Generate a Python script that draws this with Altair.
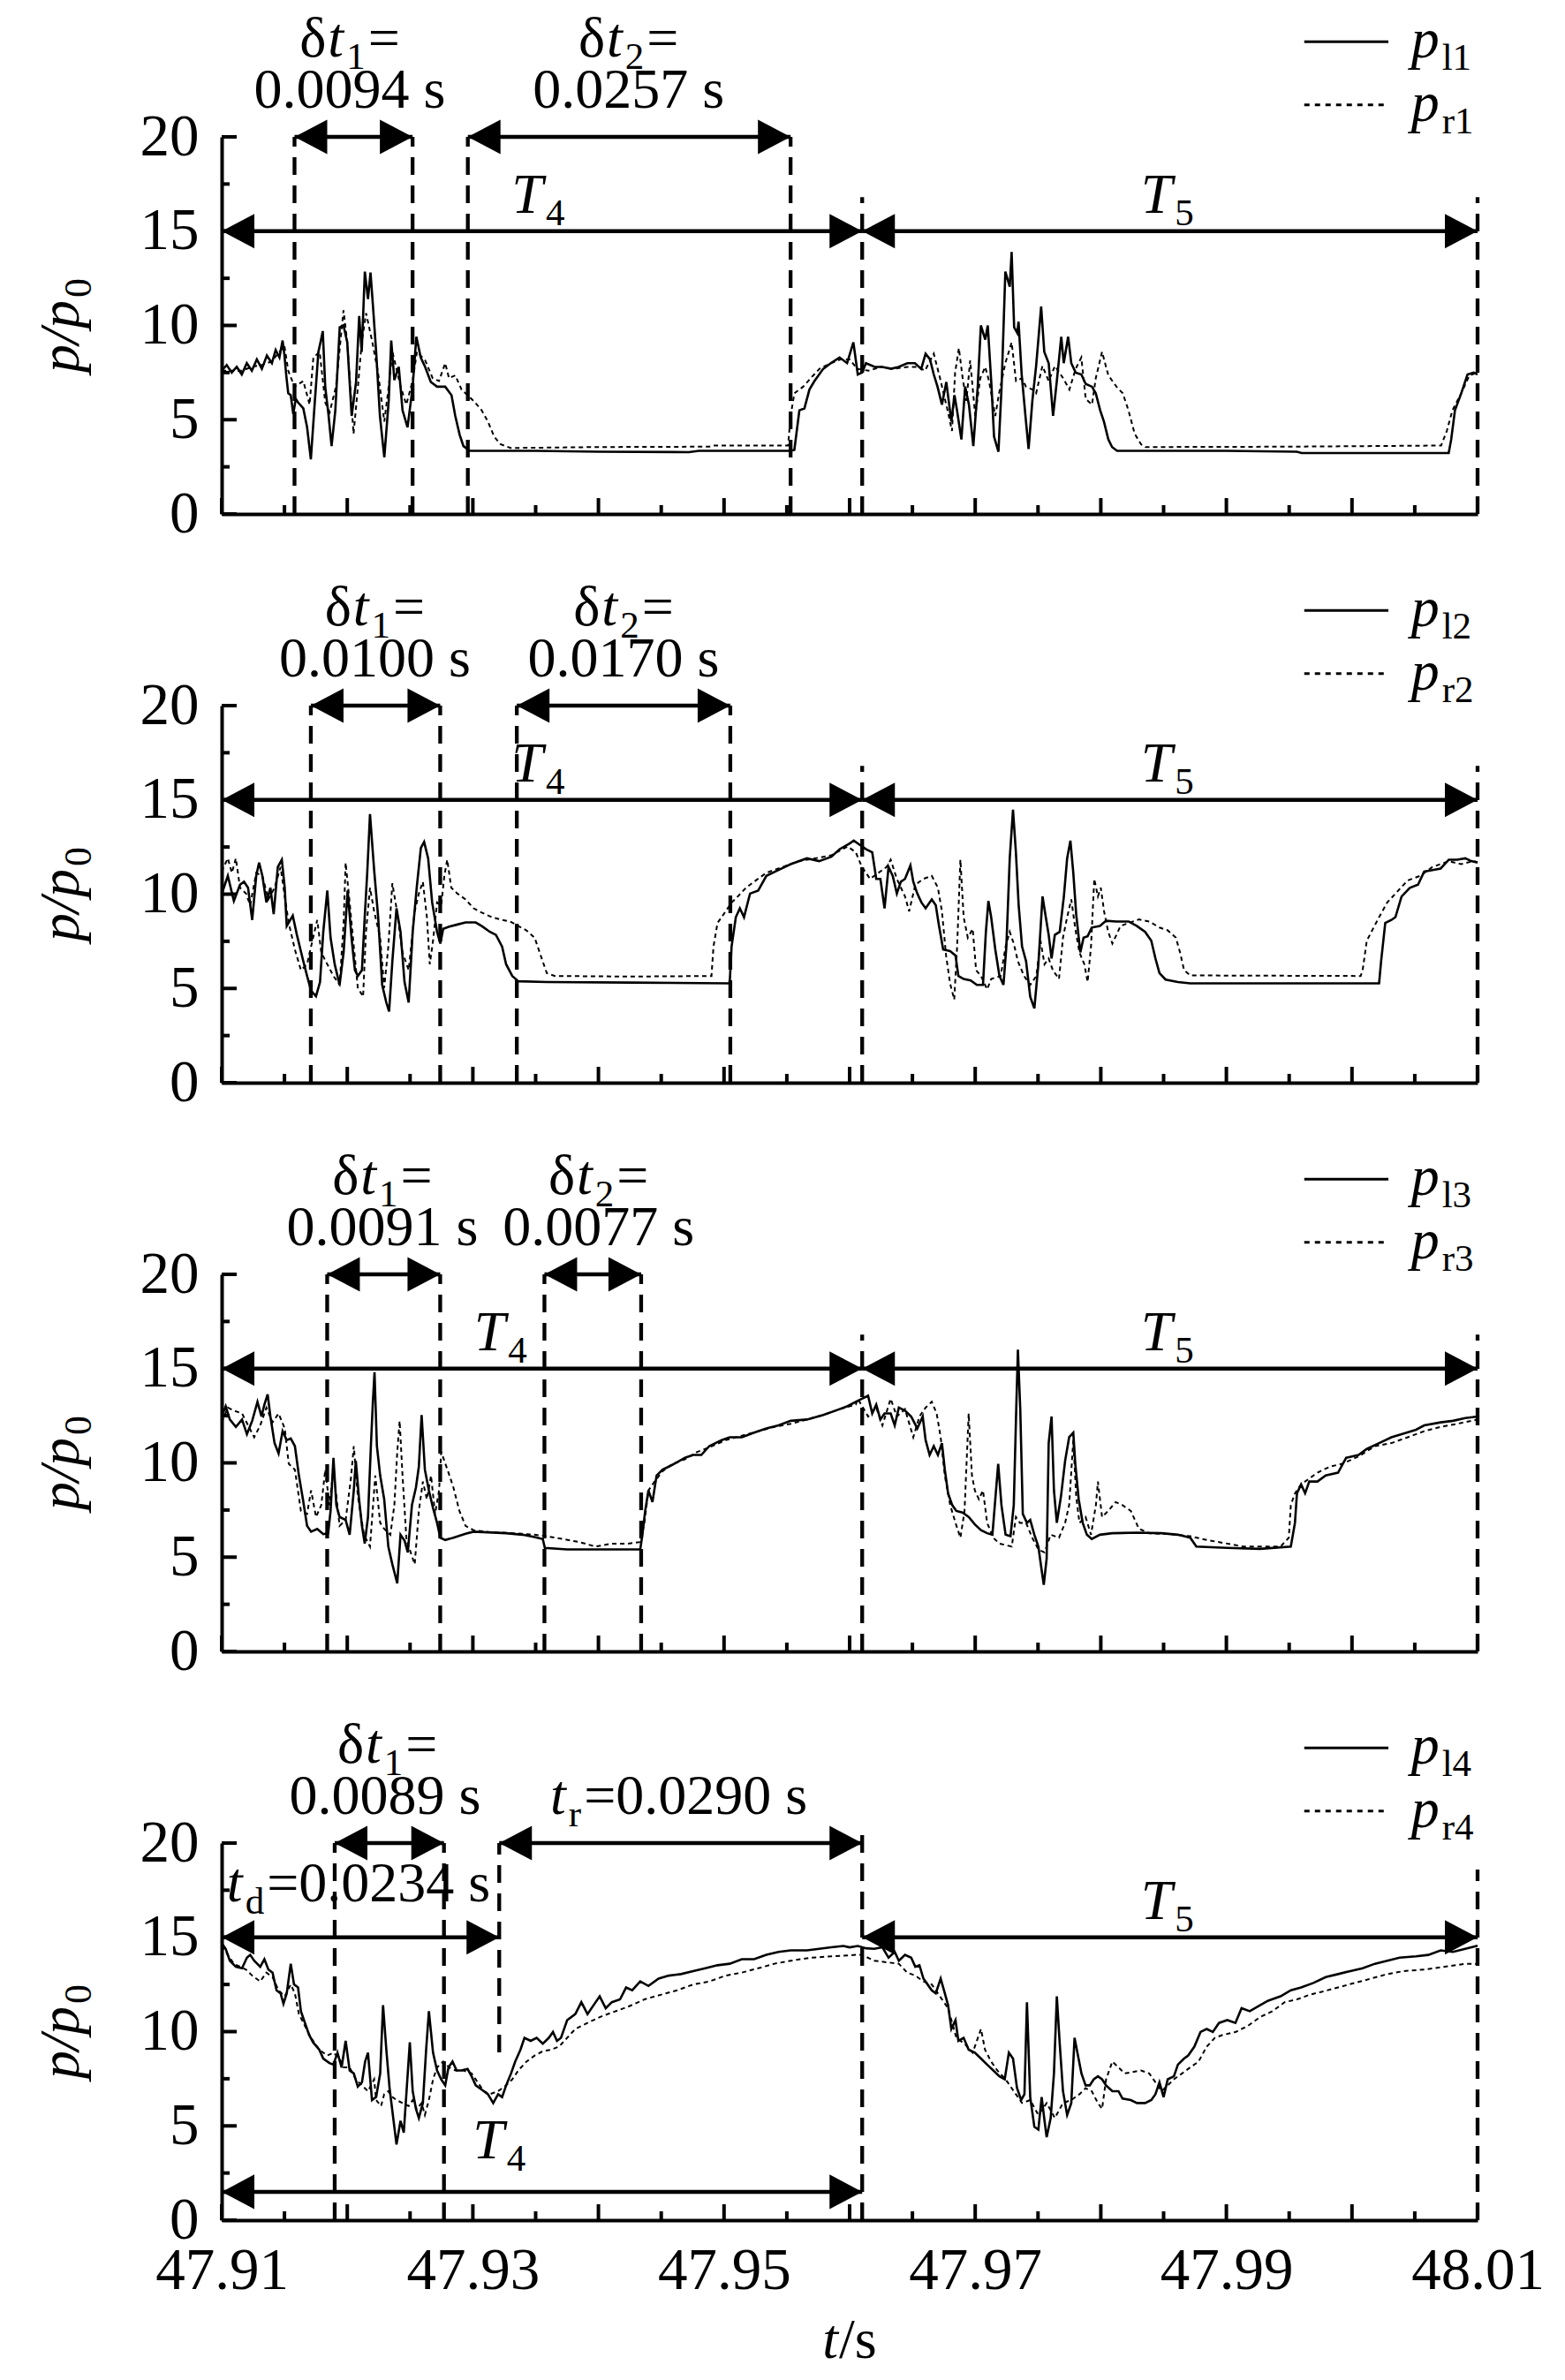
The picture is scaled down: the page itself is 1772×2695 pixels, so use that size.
import altair as alt
import pandas as pd

T0 = 47.91  # s; curve times below are ms after T0

# ---------------- curves: (ms after 47.91 s, p/p0) ----------------
P1L = [(0,7.6),(0.4,7.9),(0.8,7.5),(1.2,7.8),(1.6,7.4),(2.0,8.0),(2.4,7.6),(2.8,8.2),(3.2,7.7),(3.6,8.4),(4.0,8.0),(4.3,8.7),(4.6,8.3),(4.85,9.2),(5.0,8.4),(5.15,7.3),(5.3,6.4),(5.5,6.3),(5.7,5.3),(5.9,6.1),(6.1,5.9),(6.5,5.6),(6.8,4.6),(7.1,2.9),(7.4,5.8),(7.7,8.6),(7.9,9.2),(8.05,9.7),(8.25,6.7),(8.5,5.3),(8.75,3.6),(9.05,5.5),(9.4,9.9),(9.7,10.0),(10.0,9.1),(10.35,5.2),(10.7,7.0),(10.95,10.5),(11.15,8.6),(11.4,12.85),(11.65,11.4),(11.85,12.8),(12.05,11.0),(12.3,8.6),(12.6,5.2),(12.95,3.0),(13.3,6.0),(13.5,9.2),(13.75,7.1),(14.1,7.8),(14.4,5.5),(14.8,4.6),(15.2,6.7),(15.5,9.4),(15.85,8.3),(16.2,7.8),(16.65,7.0),(17.15,6.75),(17.8,6.75),(18.3,6.3),(18.6,5.2),(18.95,4.2),(19.25,3.6),(19.75,3.35),(25,3.35),(30,3.3),(37.2,3.28),(38,3.35),(45.3,3.35),(45.6,3.4),(46.0,5.5),(46.4,5.6),(46.8,6.6),(47.2,7.05),(47.9,7.7),(48.5,8.0),(49.2,8.3),(49.8,8.0),(50.3,9.1),(50.65,7.4),(51.0,7.5),(51.3,8.0),(52.0,7.8),(52.6,7.8),(53.3,7.7),(53.9,7.8),(54.6,8.0),(55.2,8.0),(55.7,7.7),(56.05,8.5),(56.4,8.2),(56.7,7.4),(57.0,6.75),(57.35,5.8),(57.7,7.0),(58.1,4.9),(58.35,6.3),(58.55,5.5),(58.9,3.95),(59.2,6.75),(59.5,5.8),(59.85,3.6),(60.2,6.75),(60.45,10.0),(60.8,9.25),(61.0,10.0),(61.3,6.75),(61.5,4.1),(61.85,3.3),(62.1,6.75),(62.4,12.85),(62.75,12.05),(62.9,13.9),(63.1,9.9),(63.35,9.6),(63.45,10.2),(63.7,7.4),(64.0,5.2),(64.25,3.45),(64.55,6.0),(64.85,7.85),(65.25,11.0),(65.5,8.6),(65.85,8.0),(66.2,5.2),(66.5,7.05),(66.85,9.4),(67.05,8.0),(67.4,9.4),(67.65,8.0),(68.0,7.5),(68.45,7.4),(68.8,6.9),(69.3,6.75),(69.6,6.4),(69.95,5.5),(70.25,4.9),(70.6,3.95),(70.9,3.55),(71.3,3.35),(80,3.35),(85.6,3.3),(86.0,3.23),(97.7,3.23),(97.9,3.95),(98.2,5.5),(98.7,6.4),(99.2,7.4),(99.7,7.5),(100,7.4)]
P1R = [(0,7.6),(0.8,7.6),(1.6,7.6),(2.4,7.8),(3.2,7.9),(4.0,8.1),(4.6,8.6),(5.0,8.9),(5.3,7.6),(5.8,6.75),(6.5,7.05),(7.0,5.8),(7.3,8.3),(7.8,8.6),(8.25,5.9),(8.6,5.4),(9.1,6.75),(9.7,10.8),(10.0,9.1),(10.5,4.25),(10.85,6.75),(11.15,9.1),(11.5,10.65),(12.0,9.1),(12.45,7.5),(12.95,4.9),(13.3,6.75),(13.6,8.6),(14.25,6.75),(14.7,5.8),(15.2,7.05),(15.55,8.6),(16.2,8.15),(16.8,7.2),(17.3,7.05),(17.8,8.0),(18.1,7.2),(18.6,7.35),(19.1,6.6),(20.1,5.97),(20.7,5.5),(21.2,4.9),(21.7,4.1),(22.2,3.7),(23.0,3.5),(30,3.55),(38.8,3.57),(39.2,3.63),(45.1,3.63),(45.3,5.2),(45.6,6.4),(46.3,6.75),(46.9,7.2),(47.6,7.7),(48.5,8.0),(49.3,8.2),(50.0,8.2),(50.6,7.7),(51.5,7.6),(52.5,7.8),(53.5,7.7),(54.6,7.8),(55.4,7.8),(56.0,7.6),(56.7,8.5),(57.2,7.2),(57.85,5.35),(58.15,4.4),(58.4,7.5),(58.7,8.8),(59.0,7.2),(59.3,6.0),(59.6,8.15),(60.0,5.2),(60.4,7.2),(60.8,7.8),(61.1,7.05),(61.6,5.2),(61.9,6.4),(62.4,8.0),(62.9,9.1),(63.25,7.05),(63.7,7.2),(64.05,6.75),(64.55,6.6),(64.85,6.4),(65.35,7.85),(65.85,7.05),(66.35,7.85),(67.0,7.2),(67.5,6.6),(68.0,7.7),(68.45,8.3),(68.8,6.1),(69.3,5.8),(69.6,7.2),(70.1,8.6),(70.6,7.35),(71.25,6.75),(71.75,6.4),(72.2,5.5),(72.7,4.25),(73.2,3.7),(73.55,3.55),(85,3.57),(91.2,3.6),(97.1,3.63),(97.55,4.4),(98.0,5.5),(98.7,6.4),(99.35,7.35),(100,7.5)]

P2L = [(0,10.0),(0.49,10.97),(0.97,9.64),(1.46,10.5),(1.78,10.66),(2.1,10.34),(2.43,8.63),(2.75,10.97),(2.98,11.67),(3.24,10.97),(3.56,9.56),(3.88,10.34),(4.14,8.94),(4.47,11.44),(4.79,11.83),(5.02,10.34),(5.18,8.31),(5.66,8.86),(5.99,7.84),(6.47,6.52),(6.8,5.66),(7.12,4.88),(7.51,4.59),(7.83,5.34),(8.09,8.0),(8.41,10.19),(8.67,7.69),(9.0,6.28),(9.39,5.19),(9.71,6.91),(10.03,10.19),(10.36,7.53),(10.61,5.97),(10.84,5.66),(11.17,5.97),(11.39,8.78),(11.59,11.13),(11.81,14.25),(12.14,11.28),(12.46,8.78),(12.78,5.19),(13.11,4.25),(13.33,3.78),(13.59,6.44),(13.92,9.25),(14.24,8.0),(14.56,5.34),(14.89,4.25),(15.21,8.0),(15.53,10.34),(15.86,12.45),(16.12,12.77),(16.44,11.9),(16.76,9.56),(17.15,8.0),(17.41,7.38),(17.64,8.16),(18.12,8.28),(18.77,8.39),(19.42,8.5),(20.23,8.5),(20.71,8.31),(21.36,8.0),(21.84,7.84),(22.33,7.22),(22.65,6.28),(23.14,5.66),(23.62,5.38),(25.9,5.34),(32.4,5.31),(40.45,5.27),(40.6,7.22),(40.94,8.78),(41.26,9.25),(41.59,8.78),(42.07,10.03),(42.72,10.19),(43.37,10.97),(44.34,11.28),(45.31,11.59),(46.6,11.9),(47.57,11.75),(48.54,11.98),(49.19,12.38),(50.0,12.69),(50.33,12.84),(50.82,12.61),(51.31,12.38),(51.8,12.22),(52.12,10.81),(52.45,10.81),(52.78,9.25),(53.1,11.44),(53.43,10.97),(53.76,10.03),(54.08,10.66),(54.41,10.81),(54.84,11.52),(55.07,10.66),(55.39,10.03),(55.72,9.56),(56.05,9.25),(56.54,9.72),(56.86,9.41),(57.12,8.31),(57.45,7.06),(58.0,6.98),(58.43,6.75),(58.66,5.66),(59.08,5.5),(59.64,5.42),(60.13,5.19),(60.62,5.19),(60.85,8.0),(61.05,9.64),(61.27,8.78),(61.6,7.06),(61.93,5.66),(62.25,5.19),(62.48,7.22),(62.75,11.9),(63.01,14.48),(63.24,12.22),(63.46,9.41),(63.73,7.22),(64.05,6.44),(64.38,4.56),(64.71,3.94),(65.03,6.28),(65.36,9.88),(65.62,8.78),(65.85,7.84),(66.08,6.59),(66.34,7.84),(66.73,8.0),(67.06,9.88),(67.32,11.9),(67.58,12.84),(67.81,11.13),(68.04,8.94),(68.37,6.91),(68.63,7.69),(68.95,7.77),(69.28,8.23),(69.93,8.31),(70.42,8.59),(71.24,8.55),(72.22,8.55),(72.88,8.31),(73.53,8.0),(74.02,7.53),(74.35,6.59),(74.67,5.81),(75.16,5.47),(76.14,5.34),(77.12,5.27),(92.16,5.27),(92.32,6.44),(92.65,8.47),(93.14,8.63),(93.46,8.78),(93.95,9.88),(94.61,10.34),(95.26,10.5),(95.75,11.2),(96.41,11.28),(97.06,11.36),(97.71,11.83),(98.37,11.83),(99.02,11.9),(99.5,11.75),(100,11.67)]
P2R = [(0,11.2),(0.49,11.9),(0.81,11.13),(1.13,11.9),(1.46,10.34),(1.94,10.03),(2.27,9.41),(2.75,11.13),(3.24,10.97),(3.72,9.72),(4.21,10.34),(4.69,11.44),(5.02,9.88),(5.34,8.47),(5.83,7.06),(6.31,5.97),(6.8,6.28),(7.28,7.69),(7.61,8.63),(7.93,6.91),(8.41,6.28),(8.9,5.66),(9.39,5.19),(9.71,8.47),(9.87,11.67),(10.19,9.56),(10.52,7.22),(10.84,5.03),(11.26,4.56),(11.49,8.0),(11.81,10.34),(12.14,9.09),(12.62,7.69),(12.94,5.03),(13.27,7.22),(13.59,10.58),(13.92,9.25),(14.4,6.91),(14.89,5.97),(15.37,9.09),(15.7,10.03),(16.02,10.66),(16.34,8.78),(16.57,6.28),(16.83,7.53),(17.15,9.56),(17.48,9.41),(17.73,10.97),(17.96,11.83),(18.28,10.34),(18.77,10.03),(19.42,9.72),(20.06,9.25),(20.71,9.02),(21.52,8.78),(22.33,8.63),(22.98,8.55),(23.62,8.31),(24.27,8.08),(24.92,7.69),(25.4,6.75),(25.89,5.81),(26.54,5.66),(32.36,5.63),(39.0,5.66),(39.16,7.22),(39.48,8.47),(40.13,9.09),(40.61,9.56),(41.1,9.88),(41.75,10.34),(42.39,10.66),(43.37,11.13),(44.66,11.44),(45.95,11.75),(47.25,11.9),(48.54,12.06),(49.84,12.53),(50.49,12.22),(50.98,11.44),(51.63,10.81),(52.29,11.13),(52.94,11.44),(53.27,11.83),(53.76,10.81),(54.41,9.88),(54.74,9.09),(55.23,10.5),(55.88,10.81),(56.54,10.97),(57.03,10.34),(57.35,9.09),(57.68,6.75),(58.0,5.27),(58.33,4.41),(58.56,7.22),(58.82,11.83),(59.08,8.78),(59.41,7.69),(59.8,8.16),(60.07,5.97),(60.46,5.66),(60.95,4.95),(61.27,5.5),(62.03,5.66),(62.42,7.22),(62.75,8.0),(63.07,7.38),(63.4,6.44),(63.89,5.66),(64.38,5.19),(64.87,5.66),(65.2,7.53),(65.52,6.28),(65.85,6.59),(66.18,5.97),(66.67,5.5),(66.99,7.69),(67.32,8.78),(67.65,9.72),(67.97,8.16),(68.3,6.91),(68.69,6.28),(68.95,5.34),(69.22,7.22),(69.48,10.81),(69.77,9.88),(70.0,10.34),(70.26,9.09),(70.59,8.0),(70.92,7.38),(71.57,8.31),(72.22,8.47),(73.04,8.66),(73.86,8.55),(74.67,8.23),(75.33,8.08),(75.98,7.69),(76.31,6.91),(76.63,5.97),(77.12,5.69),(90.69,5.66),(90.85,5.97),(91.18,7.53),(91.67,8.16),(92.16,8.78),(92.81,9.56),(93.46,10.03),(94.44,10.73),(95.42,10.97),(96.41,11.44),(97.71,11.75),(98.69,11.59),(99.67,11.75),(100,11.7)]

P3L = [(0,12.46),(0.32,13.0),(0.65,12.3),(1.13,11.91),(1.62,12.3),(2.01,11.52),(2.43,12.23),(2.85,13.24),(3.17,12.46),(3.4,13.09),(3.66,13.64),(3.88,12.46),(4.21,11.05),(4.53,10.5),(4.85,11.68),(5.18,11.21),(5.5,11.29),(5.83,10.89),(6.15,9.33),(6.47,8.07),(6.8,6.66),(7.12,6.35),(7.61,6.5),(8.09,6.22),(8.48,6.27),(8.67,7.45),(8.9,10.27),(9.13,7.76),(9.39,7.13),(9.87,6.97),(10.19,6.19),(10.52,8.54),(10.68,10.11),(10.94,8.07),(11.17,6.66),(11.39,5.72),(11.65,7.13),(11.88,10.89),(12.04,13.24),(12.17,14.81),(12.36,10.89),(12.62,9.33),(12.94,8.07),(13.27,5.56),(13.59,4.62),(13.98,3.61),(14.24,6.19),(14.56,5.88),(14.82,5.25),(15.15,7.76),(15.47,8.7),(15.7,9.8),(15.92,12.54),(16.18,9.64),(16.5,8.54),(16.83,7.6),(17.15,6.82),(17.41,6.03),(17.8,5.91),(18.45,6.03),(19.42,6.24),(20.06,6.35),(22.65,6.27),(23.95,6.19),(24.92,6.07),(25.57,5.96),(25.73,5.49),(27.51,5.41),(33.33,5.41),(33.5,6.19),(33.72,7.45),(33.98,8.54),(34.3,7.92),(34.63,9.33),(35.11,9.64),(35.6,9.8),(36.25,10.03),(36.89,10.27),(37.54,10.42),(38.19,10.42),(38.83,10.89),(39.81,11.21),(40.45,11.36),(41.42,11.36),(42.39,11.6),(43.37,11.83),(44.34,11.99),(45.31,12.23),(46.6,12.3),(47.9,12.54),(48.87,12.77),(49.84,13.01),(50.49,13.24),(50.98,13.4),(51.47,13.56),(51.8,12.62),(52.12,13.09),(52.45,12.3),(52.78,12.62),(53.27,12.62),(53.59,11.99),(53.92,12.93),(54.41,12.77),(54.9,12.46),(55.39,11.83),(55.82,12.46),(56.05,11.21),(56.37,10.42),(56.7,10.89),(57.03,10.42),(57.35,11.05),(57.58,9.64),(57.84,8.39),(58.17,7.76),(58.5,7.45),(58.99,7.37),(59.48,7.13),(59.97,6.74),(60.46,6.43),(60.95,6.27),(61.37,6.19),(61.6,8.07),(61.83,9.95),(62.09,7.76),(62.42,6.19),(62.81,6.11),(63.07,7.76),(63.27,12.93),(63.4,16.0),(63.59,12.77),(63.79,7.29),(64.12,6.82),(64.38,6.97),(64.71,6.19),(65.03,5.56),(65.29,4.31),(65.46,3.53),(65.69,4.94),(65.85,11.05),(66.08,12.46),(66.27,8.54),(66.5,6.82),(66.83,8.23),(67.16,10.11),(67.48,11.36),(67.81,11.6),(67.97,9.95),(68.24,8.07),(68.56,6.82),(68.89,6.19),(69.28,5.96),(69.93,6.19),(70.92,6.27),(72.88,6.3),(74.84,6.27),(76.14,6.19),(77.12,6.03),(77.61,5.56),(80.07,5.49),(82.68,5.44),(85.13,5.56),(85.46,6.82),(85.62,8.39),(85.95,8.86),(86.27,8.39),(86.6,9.01),(87.25,9.01),(87.91,9.33),(88.89,9.48),(89.54,10.27),(90.52,10.42),(91.18,10.74),(92.16,11.05),(93.14,11.36),(93.95,11.52),(95.1,11.76),(95.75,11.99),(97.06,12.15),(98.04,12.23),(99.02,12.38),(100,12.46)]
P3R = [(0,12.15),(0.49,12.93),(0.97,12.77),(1.62,12.62),(2.1,11.99),(2.59,11.36),(3.07,11.99),(3.56,12.93),(4.05,12.15),(4.53,12.62),(5.02,11.83),(5.34,9.95),(5.83,9.64),(6.31,7.45),(6.8,7.29),(7.12,8.54),(7.51,7.13),(7.93,7.76),(8.25,9.64),(8.58,7.76),(8.9,9.64),(9.39,6.66),(9.87,6.97),(10.29,9.17),(10.52,10.89),(10.84,8.23),(11.33,6.19),(11.81,5.56),(12.23,9.33),(12.62,6.82),(12.94,6.5),(13.43,6.19),(13.75,7.76),(13.98,10.58),(14.17,12.23),(14.4,9.33),(14.72,5.88),(15.05,5.25),(15.37,4.62),(15.7,7.45),(16.02,9.01),(16.34,8.07),(16.67,9.33),(16.99,7.29),(17.31,8.54),(17.48,10.58),(17.73,10.11),(18.06,9.48),(18.45,8.7),(18.93,7.45),(19.42,6.66),(20.06,6.43),(21.36,6.32),(23.3,6.27),(24.92,6.19),(25.89,6.11),(27.18,5.96),(28.48,5.8),(29.77,5.56),(31.07,5.72),(32.36,5.72),(33.33,5.8),(33.66,6.82),(33.98,8.54),(34.47,9.01),(35.11,9.56),(35.92,9.95),(36.89,10.19),(37.86,10.58),(38.83,10.82),(40.13,11.21),(41.42,11.44),(42.72,11.68),(44.01,11.91),(45.31,12.07),(46.6,12.3),(47.9,12.54),(49.19,12.85),(50.49,13.09),(50.65,13.4),(51.47,12.46),(52.12,12.93),(52.61,11.99),(53.27,13.4),(53.76,12.46),(54.41,12.85),(55.07,11.36),(55.56,12.46),(56.05,12.93),(56.54,13.24),(56.93,12.62),(57.25,11.36),(57.58,9.33),(58.01,7.76),(58.43,6.82),(58.82,6.03),(59.15,7.45),(59.48,12.62),(59.74,9.33),(59.97,8.54),(60.29,8.07),(60.62,8.54),(60.95,6.82),(61.44,6.03),(61.93,5.72),(62.91,5.56),(63.24,7.13),(63.56,6.82),(64.05,6.82),(64.54,6.03),(65.03,5.41),(65.52,5.25),(66.01,6.19),(66.67,6.03),(67.16,6.82),(67.48,7.76),(67.81,11.21),(68.04,8.23),(68.3,6.82),(68.79,7.13),(69.22,6.19),(69.61,7.76),(69.77,9.01),(70.1,7.13),(70.59,7.45),(71.18,7.92),(71.73,7.76),(72.39,7.45),(73.04,6.5),(73.86,6.27),(75.49,6.22),(77.12,6.11),(78.43,5.91),(80.07,5.72),(81.37,5.56),(84.31,5.56),(84.97,6.03),(85.13,7.76),(85.46,8.39),(85.95,8.86),(87.25,9.48),(88.24,9.8),(89.22,9.95),(90.52,10.34),(91.83,10.89),(93.14,11.05),(94.44,11.36),(95.75,11.68),(97.06,11.91),(98.37,12.07),(100,12.3)]

P4L = [(0,14.7),(0.32,14.39),(0.65,13.76),(1.13,13.44),(1.62,13.36),(2.01,13.92),(2.27,14.07),(2.59,13.76),(3.07,13.44),(3.4,13.84),(3.72,13.29),(4.05,13.13),(4.37,12.19),(4.69,12.03),(4.92,11.48),(5.18,12.03),(5.5,13.6),(5.76,12.5),(6.08,12.34),(6.31,11.08),(6.63,10.46),(6.96,9.83),(7.28,9.43),(7.77,9.04),(8.09,8.57),(8.58,8.33),(8.9,8.25),(9.22,8.88),(9.55,8.1),(9.87,9.51),(10.19,7.94),(10.52,7.78),(10.84,7.08),(11.17,7.31),(11.42,8.41),(11.65,8.88),(11.97,6.37),(12.3,6.53),(12.62,7.78),(12.85,11.4),(13.11,9.04),(13.37,7.0),(13.66,5.42),(13.92,4.01),(14.24,5.27),(14.5,4.64),(14.72,6.84),(14.98,9.43),(15.21,6.84),(15.47,5.9),(15.7,5.42),(16.02,6.21),(16.28,9.04),(16.5,11.08),(16.83,8.88),(17.15,7.94),(17.48,7.47),(17.8,7.15),(18.06,8.1),(18.38,8.41),(18.71,7.94),(19.09,7.94),(19.58,8.02),(19.9,7.63),(20.23,7.15),(20.71,6.92),(21.2,6.68),(21.62,6.21),(22.01,6.68),(22.33,6.53),(22.65,7.15),(23.04,7.78),(23.37,8.41),(23.79,9.04),(24.11,9.67),(24.6,9.51),(25.08,9.67),(25.57,9.36),(26.05,9.67),(26.38,9.98),(26.7,9.51),(27.02,9.67),(27.51,10.61),(28.16,10.93),(28.64,11.56),(29.13,10.93),(29.61,11.4),(30.1,11.87),(30.58,11.24),(31.07,11.56),(31.72,11.71),(32.2,12.34),(32.69,12.19),(33.33,12.66),(33.98,12.42),(34.79,12.81),(35.6,12.97),(36.57,13.05),(37.54,13.21),(38.51,13.36),(39.48,13.52),(40.45,13.6),(41.42,13.84),(42.39,13.84),(43.37,14.07),(44.34,14.23),(45.31,14.31),(46.6,14.31),(47.57,14.39),(48.54,14.47),(49.51,14.54),(50.0,14.47),(50.65,14.54),(51.31,14.42),(51.96,14.39),(52.61,14.47),(53.1,13.92),(53.59,14.23),(53.92,13.76),(54.41,14.07),(54.9,13.92),(55.23,13.44),(55.56,13.52),(55.88,12.81),(56.21,12.5),(56.54,12.19),(56.86,12.03),(57.25,12.81),(57.58,12.03),(57.84,11.4),(58.1,10.14),(58.43,10.61),(58.66,9.51),(59.08,9.67),(59.48,9.04),(59.97,8.88),(60.46,8.57),(60.95,8.25),(61.44,7.94),(61.93,7.63),(62.35,7.47),(62.68,8.88),(63.01,8.57),(63.33,7.0),(63.66,6.37),(63.92,6.68),(64.12,11.56),(64.38,6.53),(64.71,4.95),(65.03,4.8),(65.29,6.53),(65.52,5.27),(65.69,4.4),(66.01,5.42),(66.27,7.78),(66.5,11.87),(66.73,9.36),(66.99,6.84),(67.32,5.58),(67.65,6.21),(67.91,9.67),(68.14,8.88),(68.46,7.78),(68.79,7.15),(69.12,7.15),(69.44,7.47),(69.77,7.63),(70.1,7.47),(70.42,7.15),(70.92,6.84),(71.41,6.84),(71.73,6.45),(72.39,6.37),(72.88,6.21),(73.53,6.21),(74.02,6.37),(74.35,6.68),(74.67,7.31),(75.0,6.53),(75.33,7.47),(75.82,7.63),(76.14,8.25),(76.63,8.57),(76.96,8.73),(77.45,9.2),(77.94,9.98),(78.43,10.14),(78.92,9.98),(79.41,10.46),(80.07,10.61),(80.72,10.46),(81.21,11.24),(81.86,11.08),(82.68,11.4),(83.33,11.64),(84.31,11.87),(85.13,12.19),(85.95,12.34),(86.93,12.58),(87.91,12.89),(88.89,13.05),(89.87,13.21),(90.85,13.36),(91.83,13.6),(92.81,13.76),(93.79,13.92),(95.1,13.99),(96.08,14.07),(97.06,14.31),(98.04,14.23),(99.02,14.39),(100,14.55)]
P4R = [(0,14.54),(0.32,14.23),(0.97,13.6),(1.94,13.29),(2.43,12.97),(3.07,12.66),(3.56,13.13),(4.05,12.89),(4.53,12.19),(5.02,11.87),(5.5,12.5),(5.83,12.03),(6.15,10.93),(6.63,10.3),(7.12,9.67),(7.77,9.04),(8.41,8.73),(8.9,8.88),(9.39,8.57),(9.71,8.1),(10.19,8.1),(10.68,7.47),(11.17,7.15),(11.65,6.84),(12.14,7.47),(12.3,6.37),(12.69,6.05),(12.94,6.68),(13.27,6.84),(13.59,6.53),(13.92,6.37),(14.4,6.21),(14.89,6.05),(15.21,6.37),(15.53,5.9),(15.92,6.21),(16.18,5.58),(16.5,6.37),(16.83,7.47),(17.15,8.1),(17.64,8.41),(18.12,8.1),(18.61,7.94),(19.26,7.94),(19.9,7.78),(20.39,7.31),(20.87,6.84),(21.36,6.68),(22.01,6.84),(22.65,7.15),(23.14,7.47),(23.62,7.94),(24.27,8.41),(24.92,8.73),(25.57,8.96),(26.21,9.04),(26.86,9.2),(27.51,9.67),(28.16,10.14),(29.13,10.46),(30.1,10.77),(31.07,11.01),(32.36,11.32),(33.66,11.71),(34.95,11.95),(36.25,12.19),(37.54,12.5),(38.83,12.66),(40.13,12.97),(41.42,13.13),(42.72,13.36),(44.01,13.6),(45.31,13.76),(46.93,13.92),(48.54,13.99),(50.49,14.07),(50.98,14.07),(51.96,13.76),(52.94,13.68),(53.92,13.6),(54.58,13.13),(55.23,12.97),(55.88,12.66),(56.54,12.5),(57.19,11.87),(57.84,11.24),(58.5,9.67),(59.15,9.36),(59.8,8.88),(60.46,10.14),(60.78,9.04),(61.27,8.41),(61.76,7.94),(62.42,7.47),(63.07,6.84),(63.73,6.21),(64.38,6.37),(65.03,5.58),(65.69,6.21),(66.34,5.42),(66.99,6.21),(67.65,6.37),(68.3,6.68),(68.79,7.0),(69.28,6.84),(69.77,6.21),(70.1,5.9),(70.42,7.47),(70.92,8.41),(71.41,8.1),(71.9,7.78),(72.55,7.86),(73.2,7.94),(73.86,7.78),(74.35,7.31),(74.84,6.84),(75.33,7.15),(75.82,7.47),(76.47,7.78),(77.12,8.1),(77.78,8.41),(78.43,9.2),(79.08,9.67),(79.74,9.83),(80.72,9.98),(81.7,10.3),(82.68,10.77),(83.66,11.08),(84.64,11.56),(85.62,11.71),(86.6,11.95),(87.58,12.11),(88.89,12.34),(90.2,12.58),(91.5,12.81),(92.81,13.05),(94.12,13.21),(95.75,13.29),(97.39,13.44),(99.02,13.6),(100,13.6)]

CURVES = {1: (P1L, P1R), 2: (P2L, P2R), 3: (P3L, P3R), 4: (P4L, P4R)}
LEGEND_SUBS = {1: ("l1", "r1"), 2: ("l2", "r2"), 3: ("l3", "r3"), 4: ("l4", "r4")}

# ---------------- axes ----------------
XLABELS = [47.91, 47.93, 47.95, 47.97, 47.99, 48.01]
XT_MAJOR = [47.91, 47.92, 47.93, 47.94, 47.95, 47.96, 47.97, 47.98, 47.99, 48.00, 48.01]
XT_MINOR = [47.915, 47.925, 47.935, 47.945, 47.955, 47.965, 47.975, 47.985, 47.995, 48.005]
YLABELS = [0, 5, 10, 15, 20]
YT_MINOR = [2.5, 7.5, 12.5, 17.5]

# ---------------- annotations (s, p/p0) ----------------
VLINES = {
    1: [(47.9158, 0, 20), (47.9252, 0, 20), (47.9296, 0, 20), (47.9553, 0, 20), (47.961, 0, 16.8), (48.01, 0, 16.8)],
    2: [(47.9171, 0, 20), (47.9274, 0, 20), (47.9335, 0, 20), (47.9505, 0, 20), (47.961, 0, 16.8), (48.01, 0, 16.8)],
    3: [(47.9184, 0, 20), (47.9274, 0, 20), (47.9357, 0, 20), (47.9434, 0, 20), (47.961, 0, 16.8), (48.01, 0, 16.8)],
    4: [(47.919, 0, 20), (47.9277, 0, 20), (47.9321, 8.9, 20), (47.961, 0, 20.8), (48.01, 0, 18.6)],
}
ARROWS = {
    1: [(47.9158, 47.9252, 20), (47.9296, 47.9553, 20), (47.91, 47.961, 15), (47.961, 48.01, 15)],
    2: [(47.9171, 47.9274, 20), (47.9335, 47.9505, 20), (47.91, 47.961, 15), (47.961, 48.01, 15)],
    3: [(47.9184, 47.9274, 20), (47.9357, 47.9434, 20), (47.91, 47.961, 15), (47.961, 48.01, 15)],
    4: [(47.919, 47.9277, 20), (47.9321, 47.961, 20), (47.91, 47.9321, 15), (47.961, 48.01, 15), (47.91, 47.961, 1.5)],
}
UP, LO, TB = 24.25, 21.55, 15.95
LABELS = {
    1: [("c", 47.9202, UP, [("δ", "n"), ("t", "i"), ("1", "s"), ("=", "n")]),
        ("c", 47.9202, LO, [("0.0094 s", "n")]),
        ("c", 47.9424, UP, [("δ", "n"), ("t", "i"), ("2", "s"), ("=", "n")]),
        ("c", 47.9424, LO, [("0.0257 s", "n")]),
        ("c", 47.9352, TB, [("T", "i"), ("4", "s")]),
        ("c", 47.9853, TB, [("T", "i"), ("5", "s")])],
    2: [("c", 47.9222, UP, [("δ", "n"), ("t", "i"), ("1", "s"), ("=", "n")]),
        ("c", 47.9222, LO, [("0.0100 s", "n")]),
        ("c", 47.9420, UP, [("δ", "n"), ("t", "i"), ("2", "s"), ("=", "n")]),
        ("c", 47.9420, LO, [("0.0170 s", "n")]),
        ("c", 47.9352, TB, [("T", "i"), ("4", "s")]),
        ("c", 47.9853, TB, [("T", "i"), ("5", "s")])],
    3: [("c", 47.9228, UP, [("δ", "n"), ("t", "i"), ("1", "s"), ("=", "n")]),
        ("c", 47.9228, LO, [("0.0091 s", "n")]),
        ("c", 47.9400, UP, [("δ", "n"), ("t", "i"), ("2", "s"), ("=", "n")]),
        ("c", 47.9400, LO, [("0.0077 s", "n")]),
        ("c", 47.9322, TB, [("T", "i"), ("4", "s")]),
        ("c", 47.9853, TB, [("T", "i"), ("5", "s")])],
    4: [("c", 47.9232, UP, [("δ", "n"), ("t", "i"), ("1", "s"), ("=", "n")]),
        ("c", 47.9230, LO, [("0.0089 s", "n")]),
        ("c", 47.9464, LO, [("t", "i"), ("r", "s"), ("=0.0290 s", "n")]),
        ("c", 47.9209, 16.9, [("t", "i"), ("d", "s"), ("=0.0234 s", "n")]),
        ("c", 47.9853, TB, [("T", "i"), ("5", "s")]),
        ("c", 47.9321, 3.3, [("T", "i"), ("4", "s")])],
}
LEG_T = (47.9962, 48.0029, 48.0047)   # sample start, sample end, text start
LEG_V = (25.05, 21.7)

# ---------------- style / geometry ----------------
W, H = 1422, 427
PXS = W / 0.1
PYU = H / 20.0
FONT = "Liberation Serif"
MAIN, SUB, SUBDY = 64, 43, 14
TICKFS = 67
W_N = {".": .25, " ": .25, "s": .389, "=": .564, "δ": .5, "/": .278, "l": .278, "r": .333, "d": .5}
W_I = {"T": .556, "t": .278, "p": .5, "/": .278}


def part_w(txt, st):
    tab = W_I if st == "i" else W_N
    size = SUB if st == "s" else MAIN
    return sum(tab.get(ch, 0.5) for ch in txt) * size


def text_rows(labels):
    rows = []
    for align, tc, vb, parts in labels:
        ws = [part_w(p, s) for p, s in parts]
        gaps = [0] + [3 if (parts[i][1] == "s" or parts[i - 1][1] == "s") else 0 for i in range(1, len(parts))]
        total = sum(ws) + sum(gaps)
        x = -total / 2 if align == "c" else 0.0
        for (txt, st), w, g in zip(parts, ws, gaps):
            x += g
            rows.append({"t": tc + x / PXS, "v": vb - (SUBDY / PYU if st == "s" else 0), "text": txt, "st": st})
            x += w
    return pd.DataFrame(rows)


XS = alt.Scale(domain=[47.91, 48.01], nice=False, zero=False)
YS = alt.Scale(domain=[0, 20], nice=False, zero=False)


def panel(k):
    xax = alt.Axis(values=XLABELS, format=".2f", labels=(k == 4), ticks=False, tickSize=0, grid=False,
                   domain=True, domainWidth=4, domainColor="black", labelFont=FONT, labelFontSize=TICKFS,
                   labelColor="black", labelPadding=24, labelFlush=False, labelOverlap=False, title=None)
    yax = alt.Axis(values=YLABELS, ticks=False, tickSize=0, grid=False, domain=True, domainWidth=4,
                   domainColor="black", labelFont=FONT, labelFontSize=TICKFS, labelColor="black",
                   labelPadding=26, labelFlush=False, title=None)
    X = alt.X("t:Q", scale=XS, axis=xax)
    Y = alt.Y("v:Q", scale=YS, axis=yax)
    L = []
    # curves
    sol, dot = CURVES[k]
    dsol = pd.DataFrame({"t": [T0 + a / 1000 for a, _ in sol], "v": [b for _, b in sol]})
    ddot = pd.DataFrame({"t": [T0 + a / 1000 for a, _ in dot], "v": [b for _, b in dot]})
    L.append(alt.Chart(ddot).mark_line(color="black", strokeWidth=2, strokeDash=[5, 4]).encode(x=X, y=Y))
    L.append(alt.Chart(dsol).mark_line(color="black", strokeWidth=2.6).encode(x=X, y=Y))
    # ticks (inward)
    L.append(alt.Chart(pd.DataFrame({"t": XT_MAJOR})).mark_rule(color="black", strokeWidth=4)
             .encode(x=X, y=alt.value(H), y2=alt.value(H - 18)))
    L.append(alt.Chart(pd.DataFrame({"t": XT_MINOR})).mark_rule(color="black", strokeWidth=4)
             .encode(x=X, y=alt.value(H), y2=alt.value(H - 10)))
    L.append(alt.Chart(pd.DataFrame({"v": YLABELS})).mark_rule(color="black", strokeWidth=4)
             .encode(y=Y, x=alt.value(0), x2=alt.value(17)))
    L.append(alt.Chart(pd.DataFrame({"v": YT_MINOR})).mark_rule(color="black", strokeWidth=4)
             .encode(y=Y, x=alt.value(0), x2=alt.value(9)))
    # dashed vertical lines
    dv = pd.DataFrame(VLINES[k], columns=["t", "v", "v2"])
    L.append(alt.Chart(dv).mark_rule(color="black", strokeWidth=4.3, strokeDash=[20, 12])
             .encode(x=X, y=Y, y2=alt.Y2("v2:Q")))
    # arrows
    da = pd.DataFrame(ARROWS[k], columns=["t", "t2", "v"])
    L.append(alt.Chart(da).mark_rule(color="black", strokeWidth=4.5).encode(x=X, x2=alt.X2("t2:Q"), y=Y))
    L.append(alt.Chart(da).mark_point(shape="M0,0L2,-1.06L2,1.06Z", filled=True, size=1369,
                                      color="black", opacity=1).encode(x=X, y=Y))
    dr = da.drop(columns=["t"]).rename(columns={"t2": "t"})
    L.append(alt.Chart(dr).mark_point(shape="M0,0L-2,-1.06L-2,1.06Z", filled=True, size=1369,
                                      color="black", opacity=1).encode(x=X, y=Y))
    # legend samples
    sl, sr = LEGEND_SUBS[k]
    leg1 = pd.DataFrame({"t": [LEG_T[0]], "t2": [LEG_T[1]], "v": [LEG_V[0]]})
    leg2 = pd.DataFrame({"t": [LEG_T[0]], "t2": [LEG_T[1]], "v": [LEG_V[1]]})
    L.append(alt.Chart(leg1).mark_rule(color="black", strokeWidth=3).encode(x=X, x2=alt.X2("t2:Q"), y=Y))
    L.append(alt.Chart(leg2).mark_rule(color="black", strokeWidth=3, strokeDash=[6, 6])
             .encode(x=X, x2=alt.X2("t2:Q"), y=Y))
    labels = LABELS[k] + [("l", LEG_T[2], LEG_V[0] - 0.85, [("p", "i"), (sl, "s")]),
                          ("l", LEG_T[2], LEG_V[1] - 0.85, [("p", "i"), (sr, "s")])]
    dt = text_rows(labels)
    for st, style, size in (("n", "normal", MAIN), ("i", "italic", MAIN), ("s", "normal", SUB)):
        sub = dt[dt["st"] == st]
        if len(sub):
            L.append(alt.Chart(sub).mark_text(font=FONT, fontStyle=style, fontSize=size, align="left",
                                              baseline="alphabetic", color="black")
                     .encode(x=X, y=Y, text="text:N"))
    # y title  p/p0 (rotated)
    wmain = part_w("p/p", "i") * 64 / MAIN
    wsub = 0.5 * 44
    v0 = 10 - (wmain + 3 + wsub) / 2 / PYU
    L.append(alt.Chart(pd.DataFrame({"v": [v0], "text": ["p/p"]})).mark_text(
        font=FONT, fontStyle="italic", fontSize=64, angle=270, align="left", baseline="alphabetic",
        color="black").encode(y=Y, x=alt.value(-162), text="text:N"))
    L.append(alt.Chart(pd.DataFrame({"v": [v0 + (wmain + 3) / PYU], "text": ["0"]})).mark_text(
        font=FONT, fontSize=44, angle=270, align="left", baseline="alphabetic",
        color="black").encode(y=Y, x=alt.value(-162 + 14), text="text:N"))
    # x title t/s
    if k == 4:
        wt = 0.278 * 64
        ws = (0.278 + 0.389) * 64
        tstart = 47.96 - (wt + 1 + ws) / 2 / PXS
        L.append(alt.Chart(pd.DataFrame({"t": [tstart], "text": ["t"]})).mark_text(
            font=FONT, fontStyle="italic", fontSize=64, align="left", baseline="alphabetic",
            color="black").encode(x=X, y=alt.value(H + 156), text="text:N"))
        L.append(alt.Chart(pd.DataFrame({"t": [tstart + (wt + 1) / PXS], "text": ["/s"]})).mark_text(
            font=FONT, fontSize=64, align="left", baseline="alphabetic",
            color="black").encode(x=X, y=alt.value(H + 156), text="text:N"))
    return alt.layer(*L).properties(width=W, height=H)


chart = alt.vconcat(*[panel(k) for k in (1, 2, 3, 4)], spacing=217, bounds="flush",
                    padding={"left": 29, "top": 5, "right": 5, "bottom": 0}).configure_view(stroke=None)

chart.save("out.html", embed_options={"renderer": "svg", "actions": False})
